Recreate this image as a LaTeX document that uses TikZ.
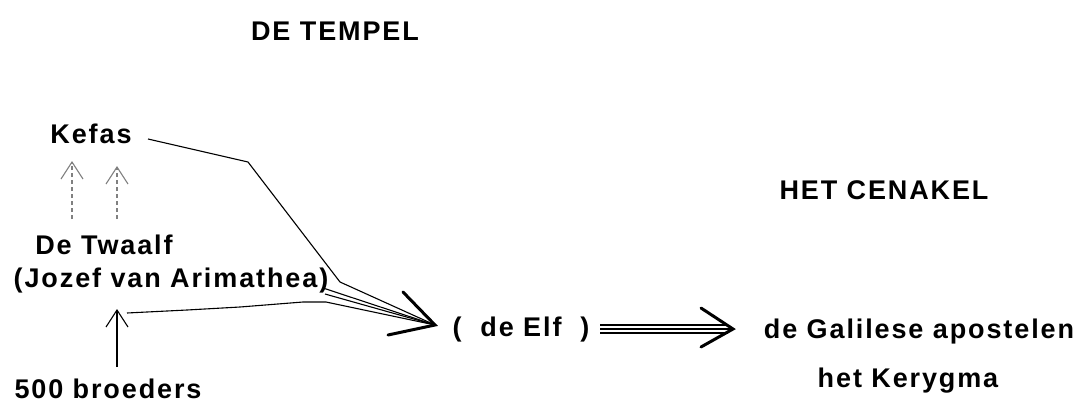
\documentclass[tikz,border=0pt]{standalone}
\usepackage{fontspec}
\setmainfont{Liberation Sans}[LetterSpace=7]
\usetikzlibrary{arrows.meta}
\begin{document}
\begin{tikzpicture}[x=1pt,y=-1pt,
  lbl/.style={font=\fontsize{27}{32}\selectfont\bfseries, inner sep=0pt, anchor=center},
  thin line/.style={line width=1.1pt, line join=round},
  uparrow/.style={line width=1.1pt, -{Straight Barb[length=17pt,width=22pt,line width=1.1pt]}},
  gray up/.style={uparrow, gray, dash pattern=on 4pt off 3pt},
  barb/.style={line width=3pt, line cap=round, line join=miter}]
\useasboundingbox (0,0) rectangle (1079,405);
% labels
\node[lbl] (tempel) at (335,31) {DE TEMPEL};
\node[lbl] (kefas) at (91,134) {Kefas};
\node[lbl] (twaalf) at (104,245) {De Twaalf};
\node[lbl] (jozef) at (171,281) {(Jozef van Arimathea)};
\node[lbl] (broeders) at (108,389) {500 broeders};
\node[lbl] (elf) at (521,330) {(\ \ de Elf\ \ )};
\node[lbl] (cenakel) at (884,190) {HET CENAKEL};
\node[lbl] (galil) at (919,332) {de Galilese apostelen};
\node[lbl] (kerygma) at (908,381) {het Kerygma};
% coordinates
\coordinate (tip) at (435,325);
\coordinate (tip2) at (733,329);
% gray dashed arrows Twaalf -> Kefas
\draw[gray up] (72,219) -- (72,161);
\draw[gray up] (117,219) -- (117,166);
% solid arrow 500 broeders -> Twaalf
\draw[uparrow] (117,367) -- (117,309);
% Kefas line
\draw[thin line] (148,139) -- (248,162) -- (340,282) -- (tip);
% lines from Jozef
\draw[thin line] (323,288) -- (tip);
\draw[thin line] (325,294) -- (tip);
% line from 500 broeders arrow
\draw[thin line] (127,313) -- (187,310) -- (240,307) -- (303,302) -- (326,302) -- (tip);
% big barb at de Elf
\draw[barb] (403,292) -- (tip) -- (388,335);
% triple arrow de Elf -> Galilese apostelen
\draw[line width=1.3pt] (600,325) -- (728,325);
\draw[line width=1.3pt] (600,329) -- (tip2);
\draw[line width=1.3pt] (600,333) -- (728,333);
\draw[barb] (701,308) -- (tip2) -- (701,347);
\end{tikzpicture}
\end{document}
